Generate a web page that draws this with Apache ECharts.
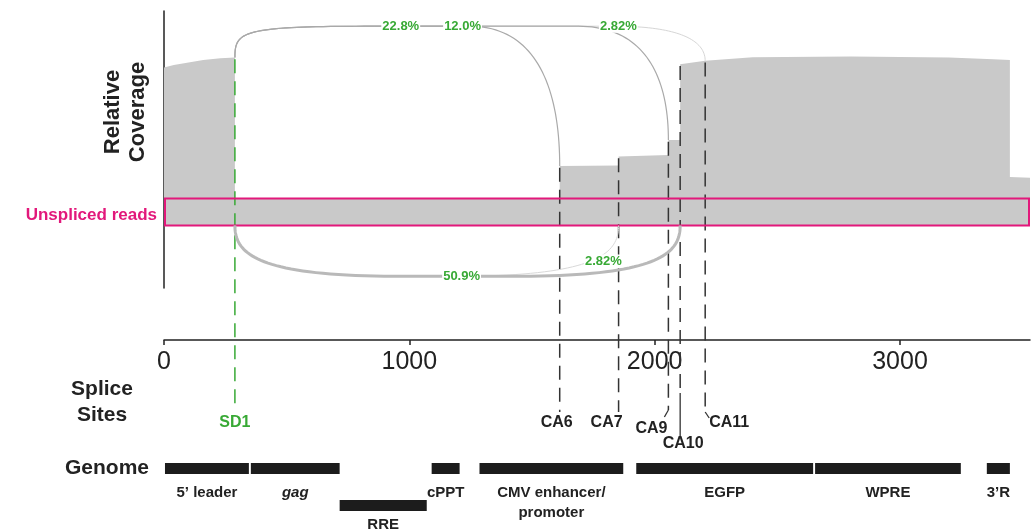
<!DOCTYPE html>
<html><head><meta charset="utf-8">
<script src="https://cdn.jsdelivr.net/npm/echarts@6/dist/echarts.min.js"></script>
<style>html,body{margin:0;padding:0;background:#fff}#c{width:1035px;height:531px}</style>
</head><body><div id="c"></div>
<script>
// ---------- data ----------
const xTicks = [0, 1000, 2000, 3000];
const coveragePos = [0, 40, 100, 160, 230, 289, 289, 1613, 1613, 1853, 1853, 2056, 2056, 2104, 2104, 2206, 2400, 2800, 3200, 3380, 3448, 3448, 3530];
const coverageVal = [93.5, 95, 96.5, 98, 99, 99.5, 15.7, 15.7, 35.2, 35.6, 40.8, 41.8, 50.6, 50.6, 95.5, 97.5, 99.6, 100, 99.5, 98.5, 98, 28.7, 28.3];
const unsplicedLevel = 16;
const siteNames = ['SD1', 'CA6', 'CA7', 'CA9', 'CA10', 'CA11'];
const sitePos = [289, 1613, 1853, 2056, 2104, 2206];
const arcFrom = [289, 289, 289, 289, 289];
const arcTo = [2206, 1613, 2056, 1853, 2104];
const arcPct = ['2.82%', '22.8%', '12.0%', '2.82%', '50.9%'];
const arcSide = ['top', 'top', 'top', 'bottom', 'bottom'];
const arcLevel = [118, 118, 118, -30, -30];
const arcLabelPos = [1852, 965, 1217, 1791, 1213];
const arcLabelVal = [118, 118, 118, -21, -30];
const genomeNames = ['5\u2019 leader', 'gag', 'RRE', 'cPPT', 'CMV enhancer/\npromoter', 'EGFP', 'WPRE', '3\u2019R'];
const genomeStart = [4, 354, 716, 1091, 1286, 1925, 2654, 3354];
const genomeEnd = [346, 716, 1071, 1205, 1872, 2646, 3248, 3448];
const genomeRow = [0, 0, 1, 0, 0, 0, 0, 0];

// ---------- styles ----------
const FONT = '"Liberation Sans", Arial, Helvetica, sans-serif';
const GREEN = '#38a935', PINK = '#e2187b', DARK = '#222';
const arcColor = ['#d6d6d6', '#a9a9a9', '#a9a9a9', '#d9d9d9', '#b9b9b9'];
const arcWidth = [1, 1.2, 1.2, 1, 3];
const arcShape = {
  top: {la: 0.85, lb: 0.05, L: 140, ra: 0.6, rb: 0.3, R: 90},
  bottom: {la: 0.5, lb: 0.1, L: 160, ra: 0.5, rb: 0.1, R: 160}
};
const siteStyle = {
  SD1: {color: GREEN, bottom: 410, lx: 0, ly: 423},
  CA6: {color: '#333', bottom: 412, lx: -3, ly: 423},
  CA7: {color: '#333', bottom: 412, lx: -12, ly: 423},
  CA9: {color: '#333', bottom: 410, bend: [-4, 417], lx: -17, ly: 429},
  CA10: {color: '#333', bottom: 393, solidTo: 437, lx: 3, ly: 444},
  CA11: {color: '#333', bottom: 412, bend: [4, 418], lx: 24, ly: 423}
};
const GEN = {rowTop: [463, 500], barH: 11, labelY: [483, 515]};

// coverage lookup: left (first value at a breakpoint) or right (last value), linear otherwise
function covAt(p, right) {
  let idx = -1;
  for (let i = 0; i < coveragePos.length; i++) {
    if (coveragePos[i] === p) { if (idx < 0 || right) idx = i; }
  }
  if (idx >= 0) return coverageVal[idx];
  for (let i = 0; i < coveragePos.length - 1; i++) {
    if (coveragePos[i] < p && p < coveragePos[i + 1]) {
      const t = (p - coveragePos[i]) / (coveragePos[i + 1] - coveragePos[i]);
      return coverageVal[i] + t * (coverageVal[i + 1] - coverageVal[i]);
    }
  }
  return 0;
}
function bez(p0, p1, p2, p3, n) {
  const pts = [];
  for (let k = 0; k <= n; k++) {
    const t = k / n, u = 1 - t;
    pts.push([u*u*u*p0[0] + 3*u*u*t*p1[0] + 3*u*t*t*p2[0] + t*t*t*p3[0],
              u*u*u*p0[1] + 3*u*u*t*p1[1] + 3*u*t*t*p2[1] + t*t*t*p3[1]]);
  }
  return pts;
}

const chart = echarts.init(document.getElementById('c'), null, {renderer: 'canvas'});

const option = {
  animation: false,
  backgroundColor: '#fff',
  grid: {left: 164, right: 5, top: 11, bottom: 243, containLabel: false},
  xAxis: {
    type: 'value', min: 0, max: 3530, interval: 1000,
    offset: 52,
    axisLine: {onZero: false, lineStyle: {color: DARK, width: 1.5}},
    axisTick: {show: true, length: 5, customValues: xTicks, lineStyle: {color: DARK, width: 1.5}},
    axisLabel: {customValues: xTicks, formatter: v => String(v), fontSize: 25, fontFamily: FONT, color: DARK, margin: 10},
    splitLine: {show: false}
  },
  yAxis: {
    type: 'value', min: -37, max: 127,
    axisLine: {show: true, lineStyle: {color: DARK, width: 1.5}},
    axisTick: {show: false}, axisLabel: {show: false}, splitLine: {show: false}
  },
  graphic: [
    {type: 'text', x: 125, y: 112, rotation: Math.PI / 2,
     style: {text: 'Relative\nCoverage', font: 'bold 22px ' + FONT, fill: DARK, align: 'center', verticalAlign: 'middle', lineHeight: 25}},
    {type: 'text', x: 157, y: 215,
     style: {text: 'Unspliced reads', font: 'bold 17px ' + FONT, fill: PINK, align: 'right', verticalAlign: 'middle'}},
    {type: 'text', x: 102, y: 402,
     style: {text: 'Splice\nSites', font: 'bold 21px ' + FONT, fill: DARK, align: 'center', verticalAlign: 'middle', lineHeight: 26}},
    {type: 'text', x: 107, y: 468,
     style: {text: 'Genome', font: 'bold 21px ' + FONT, fill: DARK, align: 'center', verticalAlign: 'middle'}}
  ],
  series: [
    {
      type: 'line', symbol: 'none',
      data: coveragePos.map((p, i) => [p, coverageVal[i]]),
      lineStyle: {width: 0},
      areaStyle: {color: '#c9c9c9', opacity: 1},
      z: 1
    },
    {
      type: 'custom', clip: false, z: 2,
      data: siteNames.map((_, i) => [i]),
      renderItem: function (params, api) {
        const i = api.value(0);
        const name = siteNames[i], st = siteStyle[name];
        const top = api.coord([sitePos[i], Math.max(covAt(sitePos[i], false), covAt(sitePos[i], true)) - 1]);
        const x = top[0];
        const ch = [];
        ch.push({type: 'line', shape: {x1: x, y1: top[1], x2: x, y2: st.bottom},
                 style: {stroke: st.color, lineWidth: 1.5, lineDash: [14, 8]}});
        if (st.solidTo) ch.push({type: 'line', shape: {x1: x, y1: st.bottom, x2: x, y2: st.solidTo},
                 style: {stroke: st.color, lineWidth: 1.3}});
        if (st.bend) ch.push({type: 'line', shape: {x1: x, y1: st.bottom, x2: x + st.bend[0], y2: st.bend[1]},
                 style: {stroke: st.color, lineWidth: 1.3}});
        ch.push({type: 'text', x: x + st.lx, y: st.ly,
                 style: {text: name, font: 'bold 16px ' + FONT, fill: name === 'SD1' ? GREEN : DARK, align: 'center', verticalAlign: 'middle'}});
        return {type: 'group', children: ch};
      }
    },
    {
      type: 'custom', clip: false, z: 3,
      data: [[0]],
      renderItem: function (params, api) {
        const a = api.coord([0, unsplicedLevel]);
        const b = api.coord([3530, 0]);
        return {type: 'rect', shape: {x: a[0] + 1, y: a[1], width: b[0] - a[0] - 2, height: b[1] - a[1]},
                style: {fill: 'none', stroke: PINK, lineWidth: 2}};
      }
    },
    {
      type: 'custom', clip: false, z: 4,
      data: arcFrom.map((_, i) => [i]),
      renderItem: function (params, api) {
        const i = api.value(0);
        const side = arcSide[i], A = arcShape[side];
        const s = api.coord([arcFrom[i], side === 'top' ? covAt(arcFrom[i], false) : 0]);
        const e = api.coord([arcTo[i], side === 'top' ? covAt(arcTo[i], true) : 0]);
        const yt = api.coord([0, arcLevel[i]])[1];
        const left = bez([s[0], s[1]], [s[0], s[1] + (yt - s[1]) * A.la], [s[0] + A.L * A.lb, yt], [s[0] + A.L, yt], 40);
        const right = bez([e[0] - A.R, yt], [e[0] - A.R * A.rb, yt], [e[0], e[1] + (yt - e[1]) * A.ra], [e[0], e[1]], 40);
        const lp = api.coord([arcLabelPos[i], arcLabelVal[i]]);
        return {type: 'group', children: [
          {type: 'polyline', shape: {points: left.concat(right)},
           style: {fill: 'none', stroke: arcColor[i], lineWidth: arcWidth[i]}},
          {type: 'text', x: lp[0], y: lp[1], z2: 100,
           style: {text: arcPct[i], font: 'bold 13px ' + FONT, fill: GREEN, align: 'center', verticalAlign: 'middle',
                   backgroundColor: '#fff', padding: [0, 1]}}
        ]};
      }
    },
    {
      type: 'custom', clip: false, z: 5,
      data: genomeNames.map((_, i) => [i]),
      renderItem: function (params, api) {
        const i = api.value(0);
        const a = api.coord([genomeStart[i], 0]), b = api.coord([genomeEnd[i], 0]);
        const r = genomeRow[i];
        const italic = genomeNames[i] === 'gag' ? 'italic ' : '';
        return {type: 'group', children: [
          {type: 'rect', shape: {x: a[0], y: GEN.rowTop[r], width: b[0] - a[0], height: GEN.barH}, style: {fill: '#1c1c1c'}},
          {type: 'text', x: (a[0] + b[0]) / 2, y: GEN.labelY[r],
           style: {text: genomeNames[i], font: italic + 'bold 15px ' + FONT, fill: DARK, align: 'center', verticalAlign: 'top', lineHeight: 20}}
        ]};
      }
    }
  ]
};
chart.setOption(option);
</script>
</body></html>
